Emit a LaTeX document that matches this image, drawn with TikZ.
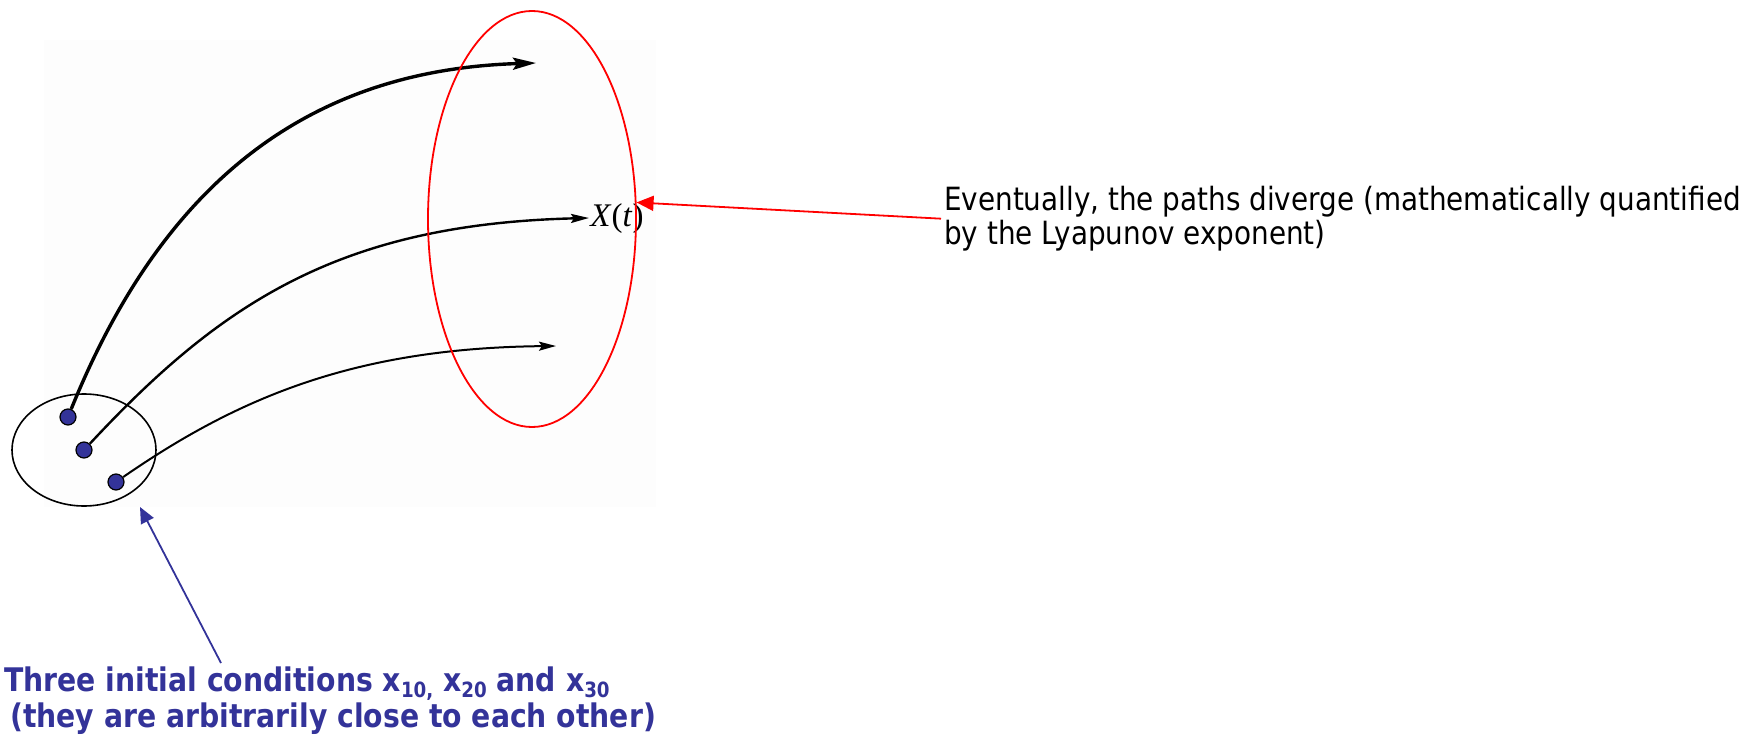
\documentclass[tikz,border=0pt]{standalone}
\usepackage{fontspec}
\setmainfont{DejaVu Sans}[FakeStretch=0.87]
\newfontfamily\statefont{Liberation Serif}
\usetikzlibrary{arrows.meta,shapes.geometric}
\definecolor{initblue}{HTML}{333399}
\pgfdeclarelayer{behind}
\pgfsetlayers{behind,main}
% lowered, smaller index after an x
\newcommand\lowsub[1]{\raisebox{-6pt}{\fontsize{21}{21}\selectfont #1}}

\begin{document}
\begin{tikzpicture}[x=1pt,y=-1pt,
  dot/.style={circle,draw=black,line width=1.2pt,fill=initblue,minimum size=16pt,inner sep=0pt},
  ring/.style={ellipse,draw,inner sep=0pt},
  trajline/.style={black,line width=#1},
  note/.style={align=left,inner sep=0pt,anchor=north west}]
\useasboundingbox (0,0) rectangle (1762,738);

% initial conditions and the neighbourhood around them
\node[ring,line width=1.6pt,minimum width=144pt,minimum height=112pt] (ic) at (84,450) {};
\node[dot] (d1) at (68,417) {};
\node[dot] (d2) at (84,450) {};
\node[dot] (d3) at (116,482) {};

% state reached after time t
\node[font=\statefont\fontsize{33}{33}\selectfont,inner sep=0pt] (xt) at (617,219)
  {\textit{X}(\textit{t})};
\coordinate (e1) at (536,63);
\coordinate (e2) at (589,218);
\coordinate (e3) at (556,346);

% trajectories, drawn beneath the dots
\begin{pgfonlayer}{behind}
  \fill[black!0.7] (44,40) rectangle (656,507);
  \draw[trajline=3.4pt,-{Stealth[length=23pt,width=12pt,inset=4pt]}]
    (d1) .. controls (162,185) and (306,70) .. (e1);
  \draw[trajline=2.4pt,-{Stealth[length=18pt,width=9pt,inset=3pt]}]
    (d2) .. controls (220,304) and (339,224) .. (e2);
  \draw[trajline=2pt,-{Stealth[length=17pt,width=9pt,inset=3pt]}]
    (d3) .. controls (239,397) and (356,348) .. (e3);
\end{pgfonlayer}

% spread of the end states
\node[ring,draw=red,line width=1.8pt,minimum width=208pt,minimum height=416pt] (spread) at (532,219) {};

% annotations
\node[note,font=\fontsize{32}{34}\selectfont] (ev) at (944,186)
  {Eventually, the paths diverge (mathematically quantified\\by the Lyapunov exponent)};
\draw[red,line width=1.8pt,-{Triangle[length=17pt,width=15pt]}] ([xshift=-3pt]ev.west) -- (spread.9);

\node[note,text=initblue,font=\fontsize{32.5}{36}\selectfont\bfseries] (init) at (4,667)
  {Three initial conditions x\lowsub{10,} x\lowsub{20} and x\lowsub{30}\\\hspace*{6pt}(they are arbitrarily close to each other)};
\coordinate (foot) at (221,663);
\coordinate (tip) at (140,507);
\draw[initblue,line width=1.8pt,-{Triangle[length=16pt,width=14pt]}] (foot) -- (tip);
\end{tikzpicture}
\end{document}
